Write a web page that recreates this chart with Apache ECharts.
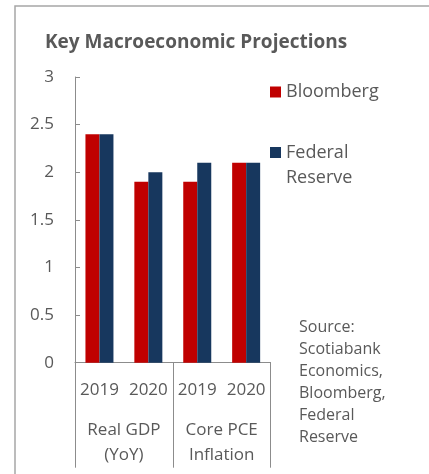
<!DOCTYPE html>
<html>
<head>
<meta charset="utf-8">
<script src="https://cdn.jsdelivr.net/npm/echarts@6/dist/echarts.min.js"></script>
<style>
html,body{margin:0;padding:0;background:#fff;}
#c{width:429px;height:474px;}
</style>
</head>
<body>
<div id="c"></div>
<script>
var years = ['2019', '2020', '2019', '2020'];
var groups = ['Real GDP\n(YoY)', 'Core PCE\nInflation'];
var bloomberg = [2.4, 1.9, 1.9, 2.1];
var fedReserve = [2.4, 2.0, 2.1, 2.1];
var yTicks = { min: 0, max: 3, interval: 0.5 };
var titleText = 'Key Macroeconomic Projections';
var sourceText = 'Source:\nScotiabank\nEconomics,\nBloomberg,\nFederal\nReserve';

var FONT = '"Open Sans", sans-serif';
var TXT = '#595959';
var AX = '#8c8c8c';

var chart = echarts.init(document.getElementById('c'), null, { renderer: 'canvas' });
chart.setOption({
  animation: false,
  backgroundColor: '#ffffff',
  title: {
    text: titleText,
    left: 45, top: 31, padding: 0,
    textStyle: { fontFamily: FONT, fontWeight: 'bold', fontSize: 19, color: TXT, lineHeight: 24 }
  },
  legend: [
    {
      data: ['Bloomberg'],
      orient: 'vertical', left: 270, top: 79.5, padding: 0,
      itemWidth: 11, itemHeight: 11, icon: 'rect',
      textStyle: { fontFamily: FONT, fontSize: 18, color: TXT, lineHeight: 25 }
    },
    {
      data: [{ name: 'Federal Reserve', icon: 'path://M0,0L11,0L11,11L0,11Z M0,36L11,36L11,36Z' }],
      orient: 'vertical', left: 270, top: 140, padding: 0,
      itemWidth: 11, itemHeight: 36,
      formatter: function () { return 'Federal\nReserve'; },
      textStyle: { fontFamily: FONT, fontSize: 18, color: TXT, lineHeight: 25 }
    }
  ],
  graphic: [
    {
      type: 'rect', z: -10, silent: true,
      shape: { x: 15, y: 6, width: 600, height: 600 },
      style: { fill: 'none', stroke: '#a6a6a6', lineWidth: 1.5 }
    },
    {
      type: 'text', left: 299, top: 316,
      style: { text: sourceText, font: '16px ' + FONT, fill: TXT, lineHeight: 22 }
    }
  ],
  grid: { left: 75, top: 77, width: 195.6, height: 285.7, containLabel: false },
  xAxis: [
    {
      type: 'category', data: years, position: 'bottom',
      axisLine: { show: true, lineStyle: { color: AX, width: 1 } },
      axisTick: { show: false },
      axisLabel: { interval: 0, fontFamily: FONT, fontSize: 17, color: TXT, margin: 17, lineHeight: 20 }
    },
    {
      type: 'category', data: groups, position: 'bottom', gridIndex: 0,
      axisLine: { show: false },
      axisTick: { show: true, length: 105, lineStyle: { color: AX, width: 1 } },
      axisLabel: { interval: 0, fontFamily: FONT, fontSize: 17, color: TXT, margin: 55, lineHeight: 25, verticalAlign: 'top' }
    }
  ],
  yAxis: {
    type: 'value', min: yTicks.min, max: yTicks.max, interval: yTicks.interval,
    axisLine: { show: true, lineStyle: { color: AX, width: 1 } },
    axisTick: { show: true, inside: true, length: 5, lineStyle: { color: AX } },
    splitLine: { show: false },
    axisLabel: { fontFamily: FONT, fontSize: 17, color: TXT, margin: 21 }
  },
  series: [
    {
      name: 'Bloomberg', type: 'bar', xAxisIndex: 0, data: bloomberg,
      barWidth: 14, barGap: '0%', itemStyle: { color: '#c00000' }
    },
    {
      name: 'Federal Reserve', type: 'bar', xAxisIndex: 0, data: fedReserve,
      barWidth: 14, barGap: '0%', itemStyle: { color: '#17375e' }
    }
  ]
});
</script>
</body>
</html>
